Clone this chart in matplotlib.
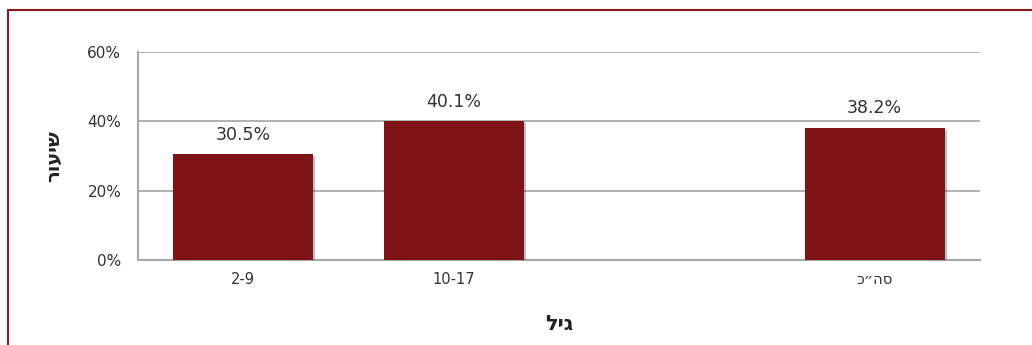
import numpy as np
import matplotlib.pyplot as plt
import matplotlib.patheffects as pe
from matplotlib.patches import Rectangle

# Data
# (Hebrew strings are stored in visual left-to-right order, matplotlib has no bidi)
categories = ['2-9', '10-17', '', 'כ״הס']
values = [30.5, 40.1, np.nan, 38.2]
yticks = [0, 20, 40, 60]
xlabel = 'ליג'
ylabel = 'רועיש'

bar_color = '#7F1418'
grid_color = '#A6A6A6'
text_color = '#333333'

plt.rcParams['font.family'] = ['DejaVu Sans']

fig = plt.figure(figsize=(10.32, 3.45), dpi=100)
ax = fig.add_axes([138/1032, 1 - 260/345, (980 - 138)/1032, (260 - 52)/345])

x = np.arange(len(categories))
bars = ax.bar(x, values, width=0.665, color=bar_color, zorder=3)
for b in bars:
    b.set_path_effects([pe.SimplePatchShadow(offset=(1.5, -1.5), alpha=0.25), pe.Normal()])

# value labels
for xi, v in zip(x, values):
    if not np.isnan(v):
        ax.text(xi, v + 3, f'{v:.1f}%', ha='center', va='bottom',
                fontsize=12.5, color=text_color)

ax.set_xlim(-0.5, len(categories) - 0.5)
ax.set_ylim(0, 60)
ax.set_yticks(yticks)
ax.set_yticklabels([f'{t}%' for t in yticks], fontsize=11, color=text_color)
ax.set_xticks(x)
ax.set_xticklabels(categories, fontsize=10.5, color=text_color)
ax.tick_params(axis='both', length=0)
ax.tick_params(axis='x', pad=9)
ax.tick_params(axis='y', pad=12)

ax.yaxis.grid(True, color=grid_color, linewidth=1.2, zorder=0)
for s in ['top', 'right']:
    ax.spines[s].set_visible(False)
for s in ['left', 'bottom']:
    ax.spines[s].set_color(grid_color)
    ax.spines[s].set_linewidth(1.5)

ax.set_xlabel(xlabel, fontsize=15, fontweight='bold', color='#222222', labelpad=19)
ax.set_ylabel(ylabel, fontsize=14, fontweight='bold', color='#222222', labelpad=18)

# outer dark-red frame (cropped at right and bottom in the reference)
fig.patches.append(Rectangle((8/1032, -0.05), 1.1, 1 - 10/345 + 0.05,
                             transform=fig.transFigure, fill=False,
                             edgecolor='#8B1A1E', linewidth=1.5))

fig.savefig('out.png', dpi=100)
